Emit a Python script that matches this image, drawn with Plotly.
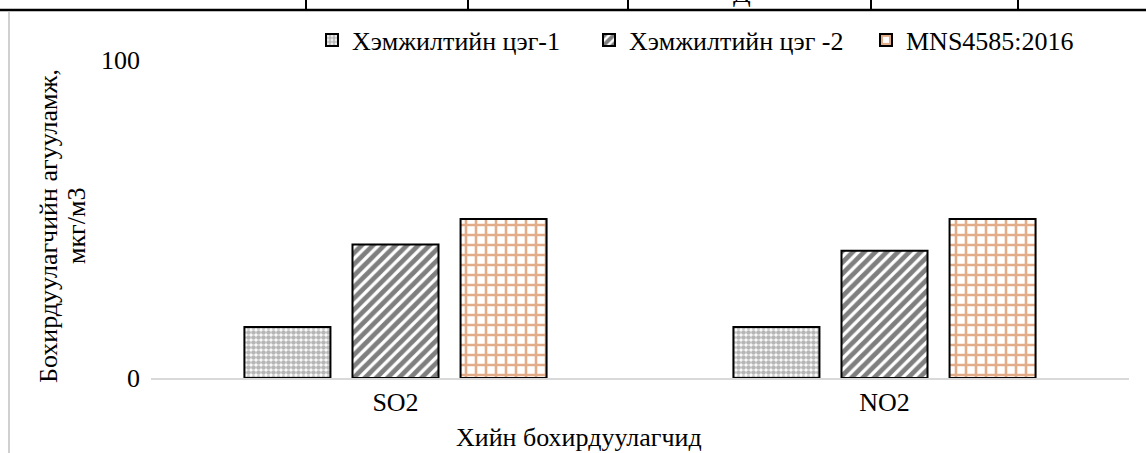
import plotly.graph_objects as go

categories = ["SO2", "NO2"]
series_names = ["Хэмжилтийн цэг-1", "Хэмжилтийн цэг -2", "MNS4585:2016"]
point1 = [16, 16]
point2 = [42, 40]
standard = [50, 50]
y_ticks = [0, 100]

W, H = 1146, 453
L, R, T, B = 151, 17, 60, 75
PW, PH = W - L - R, H - T - B


def px(x):
    return (x - L) / PW


def py(y):
    return (H - B - y) / PH


FONT = "Liberation Serif, Times New Roman, serif"
FS = 26

fig = go.Figure()
fig.add_trace(go.Bar(
    name=series_names[0], x=categories, y=point1,
    marker=dict(color="white", line=dict(color="black", width=2),
                pattern=dict(shape=".", fgcolor="#6e6e6e", bgcolor="white", size=5, solidity=0.7)),
))
fig.add_trace(go.Bar(
    name=series_names[1], x=categories, y=point2,
    marker=dict(color="white", line=dict(color="black", width=2),
                pattern=dict(shape="/", fgcolor="black", bgcolor="white", size=8, solidity=0.6)),
))
fig.add_trace(go.Bar(
    name=series_names[2], x=categories, y=standard,
    marker=dict(color="white", line=dict(color="black", width=2),
                pattern=dict(shape="+", fgcolor="#c55a11", bgcolor="white", size=10, solidity=0.45)),
))

shapes = []
# table fragment at the top of the page
shapes.append(dict(type="line", xref="paper", yref="paper",
                   x0=px(0), x1=px(W), y0=py(10), y1=py(10),
                   line=dict(color="black", width=2.5)))
for vx in [306, 468, 628, 871, 1018]:
    shapes.append(dict(type="line", xref="paper", yref="paper",
                       x0=px(vx), x1=px(vx), y0=py(0), y1=py(10),
                       line=dict(color="black", width=2)))
# left page border
shapes.append(dict(type="line", xref="paper", yref="paper",
                   x0=px(9), x1=px(9), y0=py(12), y1=py(H),
                   line=dict(color="#d0d0d0", width=2)))

annotations = [
    dict(text="Хийн бохирдуулагчид", xref="paper", yref="paper",
         x=px(579), y=py(437), showarrow=False, xanchor="center", yanchor="middle",
         font=dict(family=FONT, size=FS, color="black")),
    dict(text="Бохирдуулагчийн агууламж,", xref="paper", yref="paper",
         x=px(48), y=py(226), showarrow=False, xanchor="center", yanchor="middle",
         textangle=-90, font=dict(family=FONT, size=FS, color="black")),
    dict(text="мкг/м3", xref="paper", yref="paper",
         x=px(76), y=py(226), showarrow=False, xanchor="center", yanchor="middle",
         textangle=-90, font=dict(family=FONT, size=FS, color="black")),
    dict(text="Д", xref="paper", yref="paper", x=px(742), y=py(10),
         showarrow=False, xanchor="center", yanchor="bottom",
         font=dict(family=FONT, size=FS, color="black")),
]

fig.update_layout(
    width=W, height=H,
    margin=dict(l=L, r=R, t=T, b=B, autoexpand=False),
    paper_bgcolor="white", plot_bgcolor="white",
    font=dict(family=FONT, size=FS, color="black"),
    barmode="group", bargap=0.337, bargroupgap=0.204,
    showlegend=True,
    legend=dict(orientation="h", x=px(312), y=py(40), xanchor="left", yanchor="middle",
                font=dict(family=FONT, size=FS, color="black"),
                entrywidth=232, entrywidthmode="pixels", bgcolor="rgba(0,0,0,0)"),
    xaxis=dict(showline=True, linecolor="#d9d9d9", linewidth=2, ticks="",
               tickfont=dict(family=FONT, size=FS, color="black"), showgrid=False),
    yaxis=dict(range=[0, 100], tickvals=y_ticks, showgrid=False, zeroline=False,
               showline=False, ticks="", tickfont=dict(family=FONT, size=FS, color="black"),
               ticklabelstandoff=10),
    shapes=shapes, annotations=annotations,
)

fig.write_html("out.html", config={"displayModeBar": False},
               post_script="document.body.style.margin='0px';")
